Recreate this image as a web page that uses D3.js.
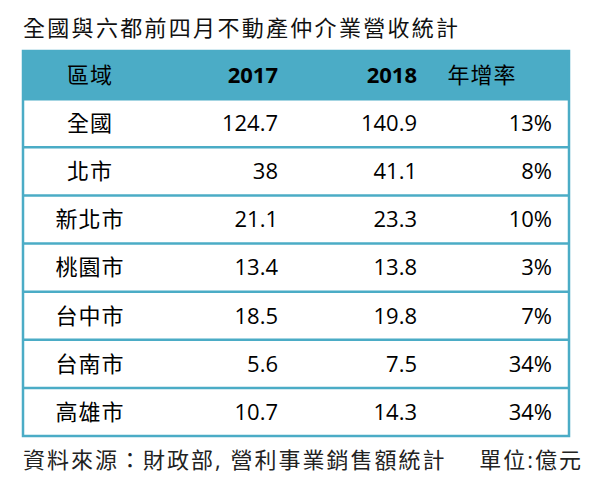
<!DOCTYPE html>
<html><head><meta charset="utf-8">
<script src="https://cdn.jsdelivr.net/npm/d3@7"></script>
<style>
html,body{margin:0;padding:0;background:#fff;}
svg{display:block;}
text{font-family:"Open Sans","Noto Sans CJK TC",sans-serif;}
</style></head>
<body>
<script>
const title = "全國與六都前四月不動產仲介業營收統計";
const headers = ["區域", "2017", "2018", "年增率"];
const regions = ["全國", "北市", "新北市", "桃園市", "台中市", "台南市", "高雄市"];
const v2017 = [124.7, 38, 21.1, 13.4, 18.5, 5.6, 10.7];
const v2018 = [140.9, 41.1, 23.3, 13.8, 19.8, 7.5, 14.3];
const growth = [13, 8, 10, 3, 7, 34, 34];
const source = "資料來源：財政部, 營利事業銷售額統計";
const unit = "單位:億元";

const W = 598, H = 486;
const blue = "#4BACC6";
const svg = d3.select("body").append("svg").attr("width", W).attr("height", H);

const tLeft = 23, tRight = 569, tTop = 51, tBottom = 436;
const rowIdx = d3.range(regions.length + 1);
const y = d3.scaleBand().domain(rowIdx).range([tTop, tBottom]).paddingInner(0).paddingOuter(0);

// header background
svg.append("rect").attr("x", tLeft).attr("y", y(0)).attr("width", tRight - tLeft).attr("height", y.bandwidth())
  .attr("fill", blue);

// row separators
svg.selectAll("line.sep").data(rowIdx.slice(1)).join("line").attr("class","sep")
  .attr("x1", tLeft).attr("x2", tRight)
  .attr("y1", d => y(d)).attr("y2", d => y(d))
  .attr("stroke", blue).attr("stroke-width", 2.5);

// outer border
svg.append("rect").attr("x", tLeft).attr("y", tTop).attr("width", tRight - tLeft).attr("height", tBottom - tTop)
  .attr("fill", "none").attr("stroke", blue).attr("stroke-width", 2.5);

const cols = [
  {x: 90, anchor: "middle"},
  {x: 278, anchor: "end"},
  {x: 417, anchor: "end"},
  {x: 552, anchor: "end"}
];
const fs = 22;
const cy = i => y(i) + y.bandwidth() / 2;

// header
const hdrX = [90, 278, 417, 482];
const hdrAnchor = ["middle", "end", "end", "middle"];
svg.selectAll("text.hdr").data(headers).join("text").attr("class","hdr")
  .attr("x", (d, i) => hdrX[i]).attr("y", cy(0)).attr("dy", "0.36em")
  .attr("text-anchor", (d, i) => hdrAnchor[i])
  .attr("font-size", fs)
  .attr("font-weight", (d, i) => (i === 1 || i === 2) ? "bold" : "normal")
  .attr("letter-spacing", (d, i) => (i === 0 || i === 3) ? 1 : 0)
  .attr("fill", "#000").text(d => d);

const rows = regions.map((r, i) => [r, String(v2017[i]), String(v2018[i]), growth[i] + "%"]);
rows.forEach((row, ri) => {
  svg.selectAll("text.r" + ri).data(row).join("text").attr("class", "r" + ri)
    .attr("x", (d, i) => cols[i].x).attr("y", cy(ri + 1)).attr("dy", "0.36em")
    .attr("text-anchor", (d, i) => cols[i].anchor)
    .attr("font-size", fs)
    .attr("letter-spacing", (d, i) => i === 0 ? 1 : 0)
    .attr("fill", "#000").text(d => d);
});

// title
svg.append("text").attr("x", tLeft).attr("y", 28).attr("dy", "0.36em")
  .attr("font-size", 22).attr("letter-spacing", 2.3).attr("fill", "#111").text(title);

// footer
svg.append("text").attr("x", tLeft).attr("y", 460).attr("dy", "0.36em")
  .attr("font-size", 22).attr("letter-spacing", 2).attr("fill", "#222").text(source);
svg.append("text").attr("x", 583).attr("y", 460).attr("dy", "0.36em").attr("text-anchor", "end")
  .attr("font-size", 22).attr("letter-spacing", 2).attr("fill", "#222").text(unit);
</script>
</body></html>
